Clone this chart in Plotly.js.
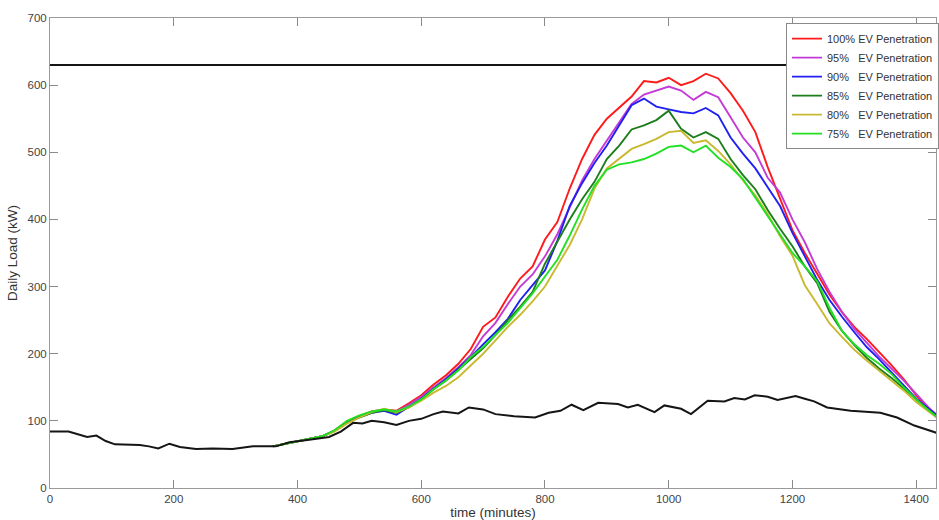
<!DOCTYPE html>
<html>
<head>
<meta charset="utf-8">
<script src="https://cdn.plot.ly/plotly-3.0.1.min.js"></script>
<style>html,body{margin:0;padding:0;background:#fff;overflow:hidden;}#chart{width:939px;height:520px;}</style>
</head>
<body>
<div id="chart"></div>
<script>
// time grid (minutes) for EV scenario curves
const evTime = [360,380,400,420,440,460,480,500,520,540,
  560,580,600,620,640,660,680,700,720,740,
  760,780,800,820,840,860,880,900,920,940,
  960,980,1000,1020,1040,1060,1080,1100,1120,1140,
  1160,1180,1200,1220,1240,1260,1280,1300,1320,1340,
  1360,1380,1400,1420,1440];

const ev100 = [62,66,70,73,77,86,99,107,114,117,
  115,126,138,154,168,185,207,240,254,285,
  312,330,370,396,446,490,526,550,566,583,
  606,604,611,600,606,617,610,588,562,530,
  478,430,384,350,318,288,262,240,222,203,
  183,162,138,118,102];
const ev95 = [62,66,70,73,77,85,98,106,113,116,
  114,124,136,150,164,180,198,226,246,274,
  300,318,345,378,418,458,490,518,546,572,
  586,592,598,592,578,590,582,552,522,500,
  462,440,400,366,326,292,262,237,216,196,
  178,160,140,120,103];
const ev90 = [62,66,70,73,77,85,97,106,112,115,
  109,121,133,148,162,178,195,214,232,252,
  280,302,324,368,420,454,484,510,540,570,
  580,568,564,560,558,566,555,522,498,476,
  448,420,380,345,310,280,255,232,210,192,
  172,152,133,118,104];
const ev85 = [62,66,70,73,77,85,97,105,112,116,
  112,120,132,147,160,176,192,208,228,250,
  270,292,334,368,400,430,456,490,510,534,
  540,548,562,535,522,530,520,490,466,445,
  414,386,360,330,305,262,234,213,194,178,
  164,148,132,116,102];
const ev80 = [62,66,70,73,77,84,96,105,113,118,
  113,120,130,142,152,165,182,200,220,240,
  258,278,300,332,362,400,446,476,490,505,
  512,520,530,532,514,518,502,482,458,436,
  408,375,346,302,274,245,225,206,190,175,
  160,145,128,114,100];
const ev75 = [62,66,70,73,77,86,100,108,114,117,
  114,121,132,147,160,175,195,210,228,246,
  268,290,315,340,376,415,450,474,482,485,
  490,498,508,510,500,510,492,478,460,432,
  405,378,350,330,308,268,234,214,198,185,
  170,150,132,116,100];

// base load without EVs
const baseTime = [0,30,45,60,75,90,105,120,145,160,175,193,210,236,263,295,328,365,387,419,
  451,470,490,505,520,540,560,580,600,620,635,660,677,700,720,750,784,806,825,843,
  862,886,918,934,950,977,993,1020,1036,1063,1090,1106,1123,1139,1160,1176,1205,1220,1235,1256,
  1294,1342,1369,1397,1440];
const baseLoad = [84,84,80,76,78,70,65,65,64,62,59,66,61,58,59,58,62,62,68,72,
  76,84,97,96,100,98,94,100,103,110,114,111,120,117,110,107,105,112,115,124,
  116,127,125,120,124,113,123,118,110,130,129,134,132,138,136,131,137,133,129,120,
  115,112,105,93,80];

// transformer limit
const limitTime = [0,1440];
const limitLoad = [630,630];

const seriesNames = ["100% EV Penetration","95%\u00a0\u00a0 EV Penetration","90%\u00a0\u00a0 EV Penetration",
  "85%\u00a0\u00a0 EV Penetration","80%\u00a0\u00a0 EV Penetration","75%\u00a0\u00a0 EV Penetration"];
const seriesValues = [ev100, ev95, ev90, ev85, ev80, ev75];
const seriesColors = ["#ff1a1a","#c43ad6","#2020f0","#1c7d1c","#c9b830","#22e022"];

const traces = [];
for (let i = 0; i < seriesValues.length; i++) {
  traces.push({
    x: evTime, y: seriesValues[i], type: "scatter", mode: "lines",
    name: seriesNames[i],
    line: {color: seriesColors[i], width: 1.9}
  });
}
traces.push({x: baseTime, y: baseLoad, type: "scatter", mode: "lines", showlegend: false,
  line: {color: "#151515", width: 2}});
traces.push({x: limitTime, y: limitLoad, type: "scatter", mode: "lines", showlegend: false,
  line: {color: "#151515", width: 2}});

const axisCommon = {
  showgrid: false, zeroline: false, showline: true, mirror: "ticks",
  linecolor: "#9a9a9a", linewidth: 1, ticks: "inside", ticklen: 8, tickcolor: "#8a8a8a",
  tickfont: {family: "Liberation Sans, Arial, sans-serif", size: 11.5, color: "#444"}
};

const layout = {
  width: 939, height: 520,
  margin: {l: 50, r: 0, t: 18, b: 32, pad: 0},
  paper_bgcolor: "#fff", plot_bgcolor: "#fff",
  font: {family: "Liberation Sans, Arial, sans-serif"},
  xaxis: Object.assign({}, axisCommon, {
    range: [0, 1432], tickvals: [0,200,400,600,800,1000,1200,1400],
    title: {text: "time (minutes)", font: {size: 13.5, color: "#333"}, standoff: 2}
  }),
  yaxis: Object.assign({}, axisCommon, {
    range: [0, 700], tickvals: [0,100,200,300,400,500,600,700],
    title: {text: "Daily Load (kW)", font: {size: 13.5, color: "#333"}, standoff: 6}
  }),
  legend: {
    x: 0.831, y: 0.989, xanchor: "left", yanchor: "top",
    bgcolor: "#fff", bordercolor: "#8a8a8a", borderwidth: 1,
    font: {family: "Liberation Sans, Arial, sans-serif", size: 11, color: "#333"},
    itemwidth: 30, tracegroupgap: 0
  },
  showlegend: true
};

Plotly.newPlot("chart", traces, layout, {displayModeBar: false, staticPlot: true});
</script>
</body>
</html>
